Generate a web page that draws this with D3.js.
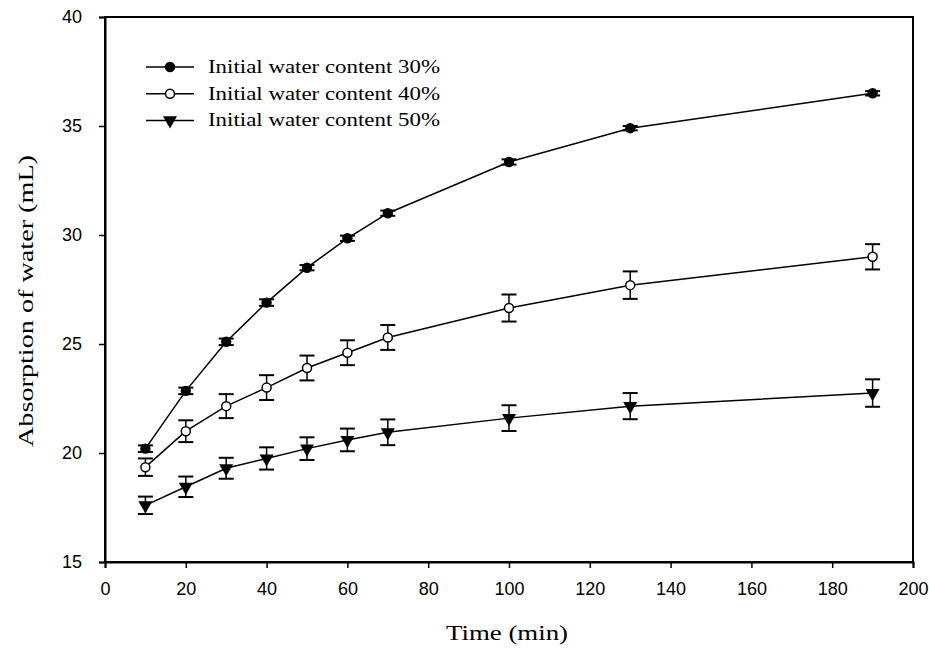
<!DOCTYPE html>
<html>
<head>
<meta charset="utf-8">
<script src="https://cdn.jsdelivr.net/npm/d3@7"></script>
<style>
  html, body { margin: 0; padding: 0; background: #fff; }
  svg { display: block; }
</style>
</head>
<body>
<svg id="chart" width="929" height="652"></svg>
<script>
// Sampling times (min)
const times = [10, 20, 30, 40, 50, 60, 70, 100, 130, 190];

// Water absorption (mL) for each initial water content, with standard errors
const seriesNames = ["Initial water content 30%", "Initial water content 40%", "Initial water content 50%"];
const values30 = [20.2, 22.85, 25.1, 26.9, 28.5, 29.85, 31.0, 33.35, 34.9, 36.5];
const errors30 = [0.15, 0.15, 0.15, 0.15, 0.12, 0.12, 0.12, 0.12, 0.1, 0.1];
const values40 = [19.35, 21.0, 22.15, 23.0, 23.9, 24.6, 25.3, 26.65, 27.7, 29.0];
const errors40 = [0.4, 0.5, 0.55, 0.57, 0.57, 0.57, 0.57, 0.62, 0.63, 0.58];
const values50 = [17.6, 18.45, 19.3, 19.75, 20.2, 20.6, 20.95, 21.6, 22.15, 22.75];
const errors50 = [0.4, 0.47, 0.48, 0.51, 0.52, 0.52, 0.59, 0.59, 0.6, 0.63];

const xTicks = [0, 20, 40, 60, 80, 100, 120, 140, 160, 180, 200];
const yTicks = [15, 20, 25, 30, 35, 40];

const series = [
  { name: seriesNames[0], values: values30, errors: errors30, marker: "dot" },
  { name: seriesNames[1], values: values40, errors: errors40, marker: "open" },
  { name: seriesNames[2], values: values50, errors: errors50, marker: "tri" }
];

const svg = d3.select("#chart");
const plotLeft = 105, plotRight = 913, plotTop = 17, plotBottom = 562;

const x = d3.scaleLinear().domain([0, 200]).range([plotLeft, plotRight]);
const y = d3.scaleLinear().domain([15, 40]).range([plotBottom, plotTop]);

const serif = "'Liberation Serif', 'DejaVu Serif', serif";
const sans = "'Liberation Sans', Arial, sans-serif";

// Frame
svg.append("rect")
  .attr("x", plotLeft).attr("y", plotTop)
  .attr("width", plotRight - plotLeft).attr("height", plotBottom - plotTop)
  .attr("fill", "none").attr("stroke", "#000").attr("stroke-width", 2);

// Axes
const xAxis = svg.append("g")
  .attr("transform", `translate(0,${plotBottom})`)
  .call(d3.axisBottom(x).tickValues(xTicks).tickSize(6).tickPadding(14).tickFormat(d3.format("d")));
const yAxis = svg.append("g")
  .attr("transform", `translate(${plotLeft},0)`)
  .call(d3.axisLeft(y).tickValues(yTicks).tickSize(6).tickPadding(17).tickFormat(d3.format("d")));

[xAxis, yAxis].forEach(g => {
  g.select(".domain").attr("stroke-width", 2);
  g.selectAll(".tick line").attr("stroke-width", 1.5);
  g.selectAll(".tick text")
    .attr("font-family", sans).attr("font-size", 18).attr("fill", "#000");
});

// Axis titles
svg.append("text")
  .attr("x", 507).attr("y", 640)
  .attr("text-anchor", "middle")
  .attr("font-family", serif).attr("font-size", 20)
  .attr("textLength", 122).attr("lengthAdjust", "spacingAndGlyphs")
  .text("Time (min)");

svg.append("text")
  .attr("transform", `translate(33,301) rotate(-90)`)
  .attr("text-anchor", "middle")
  .attr("font-family", serif).attr("font-size", 20)
  .attr("textLength", 292).attr("lengthAdjust", "spacingAndGlyphs")
  .text("Absorption of water (mL)");

// Marker drawing
function drawMarker(g, type, cx, cy) {
  if (type === "dot") {
    g.append("path")
      .attr("d", d3.symbol(d3.symbolCircle, 85)())
      .attr("transform", `translate(${cx},${cy})`)
      .attr("fill", "#000");
  } else if (type === "open") {
    g.append("circle")
      .attr("cx", cx).attr("cy", cy).attr("r", 4.5)
      .attr("fill", "#fff").attr("stroke", "#000").attr("stroke-width", 1.5);
  } else {
    g.append("path")
      .attr("d", d3.symbol(d3.symbolTriangle, 85)())
      .attr("transform", `translate(${cx},${cy}) rotate(180)`)
      .attr("fill", "#000");
  }
}

const line = d3.line().x(d => x(d[0])).y(d => y(d[1]));

series.forEach(s => {
  const g = svg.append("g");
  const pts = times.map((t, i) => [t, s.values[i], s.errors[i]]);

  g.append("path")
    .datum(pts)
    .attr("d", line)
    .attr("fill", "none").attr("stroke", "#000").attr("stroke-width", 1.5);

  // Error bars
  pts.forEach(([t, v, e]) => {
    const cx = x(t), y1 = y(v + e), y2 = y(v - e);
    g.append("line").attr("x1", cx).attr("x2", cx).attr("y1", y1).attr("y2", y2)
      .attr("stroke", "#000").attr("stroke-width", 1.5);
    [y1, y2].forEach(yy => {
      g.append("line").attr("x1", cx - 7.5).attr("x2", cx + 7.5).attr("y1", yy).attr("y2", yy)
        .attr("stroke", "#000").attr("stroke-width", 2);
    });
  });

  pts.forEach(([t, v]) => drawMarker(g, s.marker, x(t), y(v)));
});

// Legend
const legend = svg.append("g");
series.forEach((s, i) => {
  const ly = 67 + i * 26.7;
  legend.append("line").attr("x1", 146).attr("x2", 194).attr("y1", ly).attr("y2", ly)
    .attr("stroke", "#000").attr("stroke-width", 1.5);
  drawMarker(legend, s.marker, 170, ly);
  legend.append("text")
    .attr("x", 208).attr("y", ly + 6)
    .attr("font-family", serif).attr("font-size", 18)
    .attr("textLength", 232).attr("lengthAdjust", "spacingAndGlyphs")
    .text(s.name);
});
</script>
</body>
</html>
